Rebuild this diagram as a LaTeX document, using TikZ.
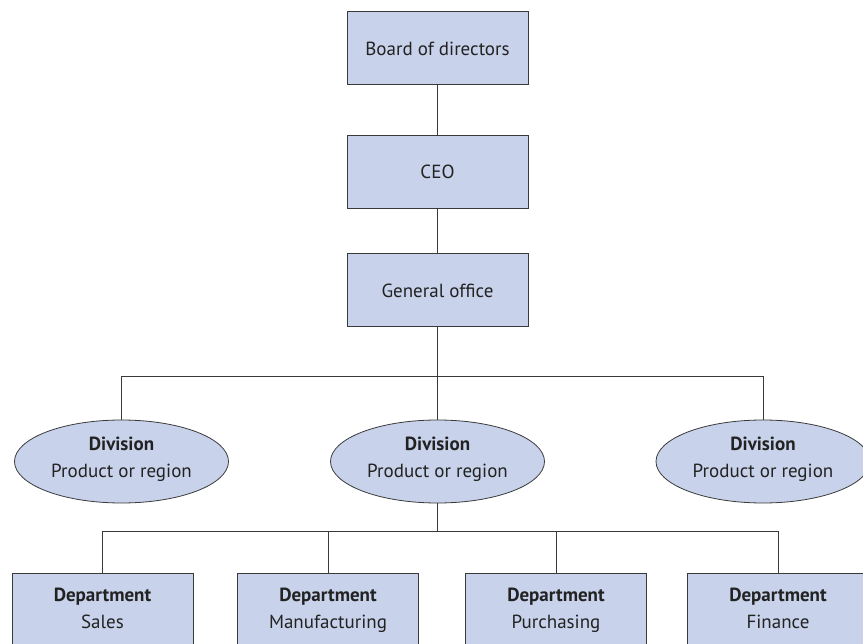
\documentclass[tikz,border=0pt]{standalone}
\usepackage{fontspec}
\setmainfont{PT Sans}
\usetikzlibrary{shapes.geometric}
\definecolor{boxfill}{HTML}{C8D3EB}
\definecolor{edge}{HTML}{3A3A3A}
\definecolor{txt}{HTML}{222222}
\begin{document}
\begin{tikzpicture}[x=1pt,y=-1pt,
  box/.style={draw=edge, fill=boxfill, line width=1pt, minimum width=181pt, minimum height=73pt, inner sep=0pt, text=txt, font=\fontsize{19}{27}\selectfont, align=center},
  dept/.style={box, minimum height=78pt, execute at end node=\strut},
  div/.style={ellipse, draw=edge, fill=boxfill, line width=0.8pt, minimum width=214pt, minimum height=83pt, inner sep=0pt, text=txt, align=center, font=\fontsize{19}{27}\selectfont, execute at end node=\strut},
  link/.style={draw=edge, line width=1pt}]
\useasboundingbox (0,0) rectangle (863,644);
\node[box] (board) at (437.5,48.5) {Board of directors};
\node[box] (ceo) at (437.5,172) {CEO};
\node[box] (gen) at (437.5,290.5) {General office};
\coordinate (bar1) at (437.5,377);
\node[div] (d1) at (121.5,461.5) {\textbf{Division}\\Product or region};
\node[div] (d2) at (437.5,461.5) {\textbf{Division}\\Product or region};
\node[div] (d3) at (763,461.5) {\textbf{Division}\\Product or region};
\coordinate (bar2) at (437.5,531);
\node[dept] (sales) at (102.5,612) {\textbf{Department}\\Sales};
\node[dept] (manu) at (328,612) {\textbf{Department}\\Manufacturing};
\node[dept] (purch) at (556,612) {\textbf{Department}\\Purchasing};
\node[dept] (fin) at (778,612) {\textbf{Department}\\Finance};
\draw[link] (board) -- (ceo);
\draw[link] (ceo) -- (gen);
\draw[link] (gen) -- (d2);
\draw[link] (d1.north) -- (d1.north |- bar1) -- (d3.north |- bar1) -- (d3.north);
\draw[link] (d2) -- (bar2);
\draw[link] (sales.north) -- (sales.north |- bar2) -- (fin.north |- bar2) -- (fin.north);
\draw[link] (manu.north) -- (manu.north |- bar2);
\draw[link] (purch.north) -- (purch.north |- bar2);
\end{tikzpicture}
\end{document}
